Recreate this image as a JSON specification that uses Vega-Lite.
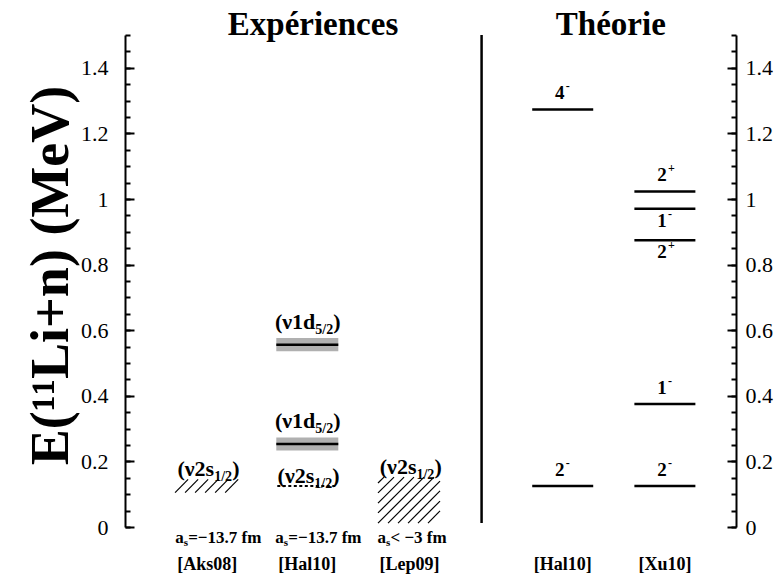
{
  "$schema": "https://vega.github.io/schema/vega-lite/v6.json",
  "width": 611,
  "height": 492,
  "autosize": {"type": "none"},
  "padding": {"left": 125, "top": 35, "right": 47, "bottom": 52},
  "background": "white",
  "config": {
    "view": {"stroke": null},
    "text": {"font": "Liberation Serif", "fontWeight": "bold", "color": "black"}
  },
  "datasets": {
    "bands": [
      {"ref": "Hal10", "pos": 1.82, "e": 0.556, "lo": 0.536, "hi": 0.576},
      {"ref": "Hal10", "pos": 1.82, "e": 0.253, "lo": 0.233, "hi": 0.273}
    ],
    "dotted": [
      {"ref": "Hal10", "pos": 1.82, "e": 0.125}
    ],
    "theory": [
      {"ref": "Hal10", "pos": 4.37, "e": 0.125, "j": "2", "p": "-", "side": "above"},
      {"ref": "Hal10", "pos": 4.37, "e": 1.273, "j": "4", "p": "-", "side": "above"},
      {"ref": "Xu10", "pos": 5.39, "e": 0.125, "j": "2", "p": "-", "side": "above"},
      {"ref": "Xu10", "pos": 5.39, "e": 0.375, "j": "1", "p": "-", "side": "above"},
      {"ref": "Xu10", "pos": 5.39, "e": 0.874, "j": "2", "p": "+", "side": "below"},
      {"ref": "Xu10", "pos": 5.39, "e": 0.97, "j": "1", "p": "-", "side": "below"},
      {"ref": "Xu10", "pos": 5.39, "e": 1.023, "j": "2", "p": "+", "side": "above"}
    ],
    "hatch": [
      {"ref": "Aks08", "hx": 0.50, "y": 0.105, "hx2": 0.63, "y2": 0.145},
      {"ref": "Aks08", "hx": 0.60, "y": 0.105, "hx2": 0.73, "y2": 0.145},
      {"ref": "Aks08", "hx": 0.70, "y": 0.105, "hx2": 0.83, "y2": 0.145},
      {"ref": "Aks08", "hx": 0.80, "y": 0.105, "hx2": 0.93, "y2": 0.145},
      {"ref": "Aks08", "hx": 0.90, "y": 0.105, "hx2": 1.03, "y2": 0.145},
      {"ref": "Aks08", "hx": 1.00, "y": 0.105, "hx2": 1.13, "y2": 0.145},
      {"ref": "Lep09", "hx": 2.526, "y": 0.134, "hx2": 2.586, "y2": 0.152},
      {"ref": "Lep09", "hx": 2.526, "y": 0.104, "hx2": 2.686, "y2": 0.152},
      {"ref": "Lep09", "hx": 2.526, "y": 0.073, "hx2": 2.786, "y2": 0.152},
      {"ref": "Lep09", "hx": 2.526, "y": 0.043, "hx2": 2.885, "y2": 0.152},
      {"ref": "Lep09", "hx": 2.526, "y": 0.012, "hx2": 2.985, "y2": 0.152},
      {"ref": "Lep09", "hx": 2.626, "y": 0.012, "hx2": 3.085, "y2": 0.152},
      {"ref": "Lep09", "hx": 2.726, "y": 0.012, "hx2": 3.145, "y2": 0.140},
      {"ref": "Lep09", "hx": 2.826, "y": 0.012, "hx2": 3.145, "y2": 0.110},
      {"ref": "Lep09", "hx": 2.925, "y": 0.012, "hx2": 3.145, "y2": 0.079},
      {"ref": "Lep09", "hx": 3.025, "y": 0.012, "hx2": 3.145, "y2": 0.049}
    ],
    "explabels": [
      {"ref": "Aks08", "pos": 0.82, "top": 0.145, "m": "(ν2s", "s": "1/2", "kind": "s"},
      {"ref": "Hal10", "pos": 1.82, "top": 0.125, "m": "(ν2s", "s": "1/2", "kind": "s"},
      {"ref": "Lep09", "pos": 2.84, "top": 0.152, "m": "(ν2s", "s": "1/2", "kind": "s"},
      {"ref": "Hal10", "pos": 1.82, "top": 0.576, "m": "(ν1d", "s": "5/2", "kind": "d"},
      {"ref": "Hal10", "pos": 1.82, "top": 0.273, "m": "(ν1d", "s": "5/2", "kind": "d"}
    ],
    "refs": [
      {"pos": 0.82, "ref": "[Aks08]", "as": "=−13.7 fm"},
      {"pos": 1.82, "ref": "[Hal10]", "as": "=−13.7 fm"},
      {"pos": 2.84, "ref": "[Lep09]", "as": "< −3 fm"},
      {"pos": 4.37, "ref": "[Hal10]", "as": null},
      {"pos": 5.39, "ref": "[Xu10]", "as": null}
    ],
    "heads": [
      {"pos": 1.877, "t": "Expériences"},
      {"pos": 4.85, "t": "Théorie"}
    ]
  },
  "resolve": {"axis": {"y": "independent"}},
  "layer": [
    {
      "data": {"values": [{"pos": 3.56, "lo": 0.012, "hi": 1.5}]},
      "mark": {"type": "rule", "strokeWidth": 2.5, "color": "black"},
      "encoding": {
        "x": {"field": "pos", "type": "quantitative", "scale": {"domain": [0, 6.1]}, "axis": null},
        "y": {"field": "lo", "type": "quantitative", "scale": {"domain": [0, 1.5], "nice": false, "zero": false},
          "axis": {"orient": "left", "values": [0, 0.2, 0.4, 0.6, 0.8, 1, 1.2, 1.4], "format": "~g",
            "tickSize": -9, "tickWidth": 2, "tickColor": "black", "domainColor": "black", "domainWidth": 2,
            "labelFont": "Liberation Serif", "labelFontSize": 22, "labelColor": "black", "labelPadding": 26,
            "labelFlush": false, "labelOverlap": false, "grid": false,
            "title": "E(¹¹Li+n) (MeV)", "titleFont": "Liberation Serif", "titleFontSize": 54,
            "titleFontWeight": "bold", "titleColor": "black", "titlePadding": 2, "titleY": 240}},
        "y2": {"field": "hi"}
      }
    },
    {
      "data": {"name": "bands"},
      "mark": {"type": "rect", "color": "#b0b0b0", "xOffset": -31, "x2Offset": 31},
      "encoding": {
        "x": {"field": "pos", "type": "quantitative", "scale": {"domain": [0, 6.1]}, "axis": null},
        "x2": {"field": "pos"},
        "y": {"field": "lo", "type": "quantitative", "scale": {"domain": [0, 1.5], "nice": false, "zero": false},
          "axis": {"orient": "left", "values": [0, 0.05, 0.1, 0.15, 0.2, 0.25, 0.3, 0.35, 0.4, 0.45, 0.5, 0.55, 0.6, 0.65, 0.7, 0.75, 0.8, 0.85, 0.9, 0.95, 1, 1.05, 1.1, 1.15, 1.2, 1.25, 1.3, 1.35, 1.4, 1.45, 1.5],
            "tickSize": -5, "tickWidth": 2, "tickColor": "black", "domain": false, "labels": false, "grid": false, "title": null}},
        "y2": {"field": "hi"}
      }
    },
    {
      "data": {"name": "bands"},
      "mark": {"type": "rule", "color": "black", "strokeWidth": 2.5, "xOffset": -31, "x2Offset": 31},
      "encoding": {
        "x": {"field": "pos", "type": "quantitative", "scale": {"domain": [0, 6.1]}, "axis": null},
        "x2": {"field": "pos"},
        "y": {"field": "e", "type": "quantitative", "scale": {"domain": [0, 1.5], "nice": false, "zero": false}, "axis": null}
      }
    },
    {
      "data": {"name": "dotted"},
      "mark": {"type": "rule", "color": "black", "strokeWidth": 2, "strokeDash": [3, 2.5], "xOffset": -30, "x2Offset": 30},
      "encoding": {
        "x": {"field": "pos", "type": "quantitative", "scale": {"domain": [0, 6.1]}, "axis": null},
        "x2": {"field": "pos"},
        "y": {"field": "e", "type": "quantitative", "scale": {"domain": [0, 1.5], "nice": false, "zero": false},
          "axis": {"orient": "right", "values": [0, 0.2, 0.4, 0.6, 0.8, 1, 1.2, 1.4], "format": "~g",
            "tickSize": -9, "tickWidth": 2, "tickColor": "black", "domainColor": "black", "domainWidth": 2,
            "labelFont": "Liberation Serif", "labelFontSize": 22, "labelColor": "black", "labelPadding": 18,
            "labelFlush": false, "labelOverlap": false, "grid": false, "title": null}}
      }
    },
    {
      "data": {"name": "theory"},
      "mark": {"type": "rule", "color": "black", "strokeWidth": 2.5, "xOffset": -30.5, "x2Offset": 30.5},
      "encoding": {
        "x": {"field": "pos", "type": "quantitative", "scale": {"domain": [0, 6.1]}, "axis": null},
        "x2": {"field": "pos"},
        "y": {"field": "e", "type": "quantitative", "scale": {"domain": [0, 1.5], "nice": false, "zero": false},
          "axis": {"orient": "right", "values": [0, 0.05, 0.1, 0.15, 0.2, 0.25, 0.3, 0.35, 0.4, 0.45, 0.5, 0.55, 0.6, 0.65, 0.7, 0.75, 0.8, 0.85, 0.9, 0.95, 1, 1.05, 1.1, 1.15, 1.2, 1.25, 1.3, 1.35, 1.4, 1.45, 1.5],
            "tickSize": -5, "tickWidth": 2, "tickColor": "black", "domain": false, "labels": false, "grid": false, "title": null}}
      }
    },
    {
      "data": {"name": "hatch"},
      "mark": {"type": "rule", "color": "black", "strokeWidth": 1.2},
      "encoding": {
        "x": {"field": "hx", "type": "quantitative", "scale": {"domain": [0, 6.1]}, "axis": null},
        "x2": {"field": "hx2"},
        "y": {"field": "y", "type": "quantitative", "scale": {"domain": [0, 1.5], "nice": false, "zero": false}, "axis": null},
        "y2": {"field": "y2"}
      }
    },
    {
      "data": {"name": "explabels"},
      "transform": [{"filter": "datum.kind === 's'"}],
      "mark": {"type": "text", "font": "Liberation Serif", "fontSize": 22, "align": "right", "baseline": "alphabetic", "dx": 7, "dy": -3},
      "encoding": {
        "x": {"field": "pos", "type": "quantitative", "scale": {"domain": [0, 6.1]}, "axis": null},
        "y": {"field": "top", "type": "quantitative", "scale": {"domain": [0, 1.5], "nice": false, "zero": false}, "axis": null},
        "text": {"field": "m"}
      }
    },
    {
      "data": {"name": "explabels"},
      "transform": [{"filter": "datum.kind === 's'"}],
      "mark": {"type": "text", "font": "Liberation Serif", "fontSize": 14, "align": "left", "baseline": "alphabetic", "dx": 7, "dy": 2},
      "encoding": {
        "x": {"field": "pos", "type": "quantitative", "scale": {"domain": [0, 6.1]}, "axis": null},
        "y": {"field": "top", "type": "quantitative", "scale": {"domain": [0, 1.5], "nice": false, "zero": false}, "axis": null},
        "text": {"field": "s"}
      }
    },
    {
      "data": {"name": "explabels"},
      "transform": [{"filter": "datum.kind === 's'"}],
      "mark": {"type": "text", "font": "Liberation Serif", "fontSize": 22, "align": "left", "baseline": "alphabetic", "dx": 25, "dy": -3, "text": ")"},
      "encoding": {
        "x": {"field": "pos", "type": "quantitative", "scale": {"domain": [0, 6.1]}, "axis": null},
        "y": {"field": "top", "type": "quantitative", "scale": {"domain": [0, 1.5], "nice": false, "zero": false}, "axis": null}
      }
    },
    {
      "data": {"name": "explabels"},
      "transform": [{"filter": "datum.kind === 'd'"}],
      "mark": {"type": "text", "font": "Liberation Serif", "fontSize": 22, "align": "right", "baseline": "alphabetic", "dx": 8, "dy": -9},
      "encoding": {
        "x": {"field": "pos", "type": "quantitative", "scale": {"domain": [0, 6.1]}, "axis": null},
        "y": {"field": "top", "type": "quantitative", "scale": {"domain": [0, 1.5], "nice": false, "zero": false}, "axis": null},
        "text": {"field": "m"}
      }
    },
    {
      "data": {"name": "explabels"},
      "transform": [{"filter": "datum.kind === 'd'"}],
      "mark": {"type": "text", "font": "Liberation Serif", "fontSize": 14, "align": "left", "baseline": "alphabetic", "dx": 8, "dy": -4},
      "encoding": {
        "x": {"field": "pos", "type": "quantitative", "scale": {"domain": [0, 6.1]}, "axis": null},
        "y": {"field": "top", "type": "quantitative", "scale": {"domain": [0, 1.5], "nice": false, "zero": false}, "axis": null},
        "text": {"field": "s"}
      }
    },
    {
      "data": {"name": "explabels"},
      "transform": [{"filter": "datum.kind === 'd'"}],
      "mark": {"type": "text", "font": "Liberation Serif", "fontSize": 22, "align": "left", "baseline": "alphabetic", "dx": 26, "dy": -9, "text": ")"},
      "encoding": {
        "x": {"field": "pos", "type": "quantitative", "scale": {"domain": [0, 6.1]}, "axis": null},
        "y": {"field": "top", "type": "quantitative", "scale": {"domain": [0, 1.5], "nice": false, "zero": false}, "axis": null}
      }
    },
    {
      "data": {"name": "theory"},
      "transform": [{"filter": "datum.side === 'above'"}],
      "mark": {"type": "text", "font": "Liberation Serif", "fontSize": 19, "align": "center", "baseline": "alphabetic", "dx": -3, "dy": -10},
      "encoding": {
        "x": {"field": "pos", "type": "quantitative", "scale": {"domain": [0, 6.1]}, "axis": null},
        "y": {"field": "e", "type": "quantitative", "scale": {"domain": [0, 1.5], "nice": false, "zero": false}, "axis": null},
        "text": {"field": "j"}
      }
    },
    {
      "data": {"name": "theory"},
      "transform": [{"filter": "datum.side === 'above'"}],
      "mark": {"type": "text", "font": "Liberation Serif", "fontSize": 12, "align": "left", "baseline": "alphabetic", "dx": 3, "dy": -19},
      "encoding": {
        "x": {"field": "pos", "type": "quantitative", "scale": {"domain": [0, 6.1]}, "axis": null},
        "y": {"field": "e", "type": "quantitative", "scale": {"domain": [0, 1.5], "nice": false, "zero": false}, "axis": null},
        "text": {"field": "p"}
      }
    },
    {
      "data": {"name": "theory"},
      "transform": [{"filter": "datum.side === 'below'"}],
      "mark": {"type": "text", "font": "Liberation Serif", "fontSize": 19, "align": "center", "baseline": "alphabetic", "dx": -3, "dy": 18},
      "encoding": {
        "x": {"field": "pos", "type": "quantitative", "scale": {"domain": [0, 6.1]}, "axis": null},
        "y": {"field": "e", "type": "quantitative", "scale": {"domain": [0, 1.5], "nice": false, "zero": false}, "axis": null},
        "text": {"field": "j"}
      }
    },
    {
      "data": {"name": "theory"},
      "transform": [{"filter": "datum.side === 'below'"}],
      "mark": {"type": "text", "font": "Liberation Serif", "fontSize": 12, "align": "left", "baseline": "alphabetic", "dx": 3, "dy": 9},
      "encoding": {
        "x": {"field": "pos", "type": "quantitative", "scale": {"domain": [0, 6.1]}, "axis": null},
        "y": {"field": "e", "type": "quantitative", "scale": {"domain": [0, 1.5], "nice": false, "zero": false}, "axis": null},
        "text": {"field": "p"}
      }
    },
    {
      "data": {"name": "refs"},
      "mark": {"type": "text", "font": "Liberation Serif", "fontSize": 18, "align": "center", "baseline": "alphabetic", "dy": 43},
      "encoding": {
        "x": {"field": "pos", "type": "quantitative", "scale": {"domain": [0, 6.1]}, "axis": null},
        "y": {"datum": 0, "type": "quantitative", "scale": {"domain": [0, 1.5], "nice": false, "zero": false}, "axis": null},
        "text": {"field": "ref"}
      }
    },
    {
      "data": {"name": "refs"},
      "transform": [{"filter": "isValid(datum.as)"}],
      "mark": {"type": "text", "font": "Liberation Serif", "fontSize": 17, "align": "left", "baseline": "alphabetic", "dx": -32, "dy": 16, "text": "a"},
      "encoding": {
        "x": {"field": "pos", "type": "quantitative", "scale": {"domain": [0, 6.1]}, "axis": null},
        "y": {"datum": 0, "type": "quantitative", "scale": {"domain": [0, 1.5], "nice": false, "zero": false}, "axis": null}
      }
    },
    {
      "data": {"name": "refs"},
      "transform": [{"filter": "isValid(datum.as)"}],
      "mark": {"type": "text", "font": "Liberation Serif", "fontSize": 11, "align": "left", "baseline": "alphabetic", "dx": -23.5, "dy": 19, "text": "s"},
      "encoding": {
        "x": {"field": "pos", "type": "quantitative", "scale": {"domain": [0, 6.1]}, "axis": null},
        "y": {"datum": 0, "type": "quantitative", "scale": {"domain": [0, 1.5], "nice": false, "zero": false}, "axis": null}
      }
    },
    {
      "data": {"name": "refs"},
      "transform": [{"filter": "isValid(datum.as)"}],
      "mark": {"type": "text", "font": "Liberation Serif", "fontSize": 17, "align": "left", "baseline": "alphabetic", "dx": -19, "dy": 16},
      "encoding": {
        "x": {"field": "pos", "type": "quantitative", "scale": {"domain": [0, 6.1]}, "axis": null},
        "y": {"datum": 0, "type": "quantitative", "scale": {"domain": [0, 1.5], "nice": false, "zero": false}, "axis": null},
        "text": {"field": "as"}
      }
    },
    {
      "data": {"name": "heads"},
      "mark": {"type": "text", "font": "Liberation Serif", "fontSize": 33, "align": "center", "baseline": "alphabetic", "dy": 0},
      "encoding": {
        "x": {"field": "pos", "type": "quantitative", "scale": {"domain": [0, 6.1]}, "axis": null},
        "y": {"datum": 1.5, "type": "quantitative", "scale": {"domain": [0, 1.5], "nice": false, "zero": false}, "axis": null},
        "text": {"field": "t"}
      }
    }
  ]
}
